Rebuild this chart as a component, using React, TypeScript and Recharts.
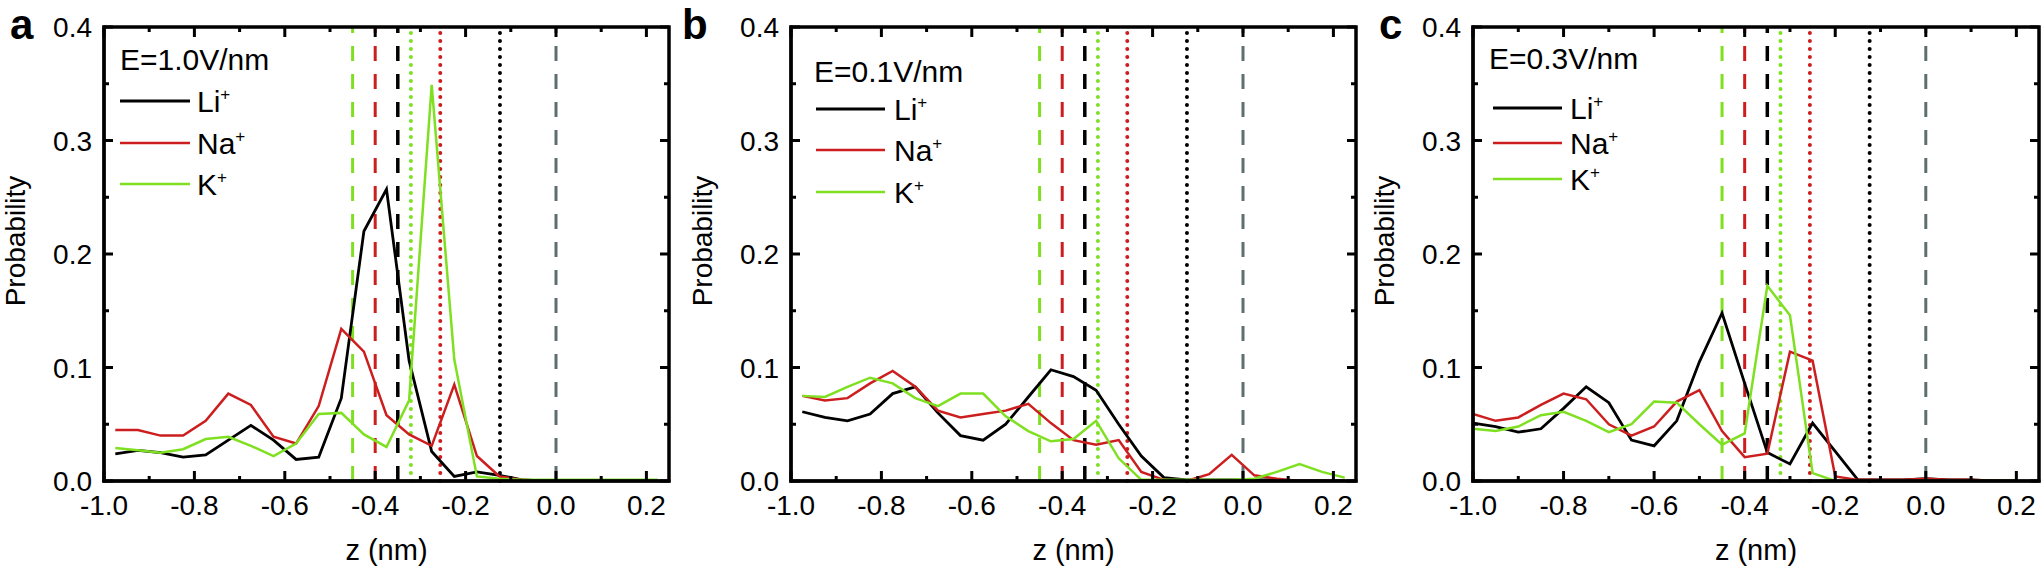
import React from 'react';
import { LineChart, Line, XAxis, YAxis, ReferenceLine } from 'recharts';

// bin centres (panels a, b are offset by half a bin, panel c is on the grid)
const zOffset = [-0.975, -0.925, -0.875, -0.825, -0.775, -0.725, -0.675, -0.625, -0.575, -0.525, -0.475, -0.425, -0.375, -0.325, -0.275, -0.225, -0.175, -0.125, -0.075, -0.025, 0.025, 0.075, 0.125, 0.175, 0.225];
const zGrid = [-1.0, -0.95, -0.9, -0.85, -0.8, -0.75, -0.7, -0.65, -0.6, -0.55, -0.5, -0.45, -0.4, -0.35, -0.3, -0.25, -0.2, -0.15, -0.1, -0.05, 0.0, 0.05, 0.1, 0.15, 0.2];

// panel a, E = 1.0 V/nm
const liA = [0.024, 0.027, 0.025, 0.021, 0.023, 0.036, 0.049, 0.036, 0.019, 0.021, 0.073, 0.22, 0.257, 0.106, 0.026, 0.004, 0.008, 0.005, 0.001, 0, 0, 0, 0, 0, 0];
const naA = [0.045, 0.045, 0.04, 0.04, 0.053, 0.077, 0.067, 0.039, 0.033, 0.066, 0.134, 0.114, 0.058, 0.041, 0.031, 0.085, 0.022, 0.004, 0.001, 0, 0, 0, 0, 0, 0];
const kA = [0.029, 0.027, 0.025, 0.028, 0.037, 0.039, 0.031, 0.022, 0.033, 0.059, 0.06, 0.041, 0.03, 0.071, 0.349, 0.107, 0.004, 0.002, 0.001, 0.001, 0.001, 0.001, 0.001, 0.001, 0.001];

// panel b, E = 0.1 V/nm
const liB = [0.061, 0.056, 0.053, 0.059, 0.077, 0.083, 0.06, 0.04, 0.036, 0.05, 0.074, 0.098, 0.092, 0.08, 0.05, 0.022, 0.003, 0.001, 0.001, 0.001, 0.001, 0.001, 0, 0, 0];
const naB = [0.075, 0.071, 0.073, 0.086, 0.097, 0.083, 0.062, 0.056, 0.059, 0.062, 0.068, 0.051, 0.036, 0.032, 0.036, 0.008, 0.001, 0, 0.006, 0.023, 0.005, 0.002, 0, 0, 0];
const kB = [0.075, 0.074, 0.083, 0.091, 0.086, 0.073, 0.066, 0.077, 0.077, 0.057, 0.044, 0.035, 0.037, 0.053, 0.02, 0.001, 0.001, 0.001, 0.001, 0.001, 0.002, 0.008, 0.015, 0.008, 0.003];

// panel c, E = 0.3 V/nm
const liC = [0.051, 0.048, 0.043, 0.046, 0.064, 0.083, 0.069, 0.036, 0.031, 0.053, 0.105, 0.148, 0.086, 0.025, 0.015, 0.051, 0.026, 0.001, 0.001, 0.001, 0.002, 0.001, 0.001, 0, 0];
const naC = [0.059, 0.053, 0.056, 0.067, 0.077, 0.072, 0.05, 0.04, 0.048, 0.07, 0.08, 0.044, 0.021, 0.024, 0.114, 0.106, 0.004, 0.001, 0.001, 0.001, 0.002, 0.001, 0.001, 0, 0];
const kC = [0.046, 0.044, 0.048, 0.058, 0.061, 0.053, 0.043, 0.05, 0.07, 0.069, 0.05, 0.032, 0.042, 0.172, 0.146, 0.007, 0, 0, 0, 0, 0, 0, 0, 0, 0];

// vertical marker positions (same in every panel)
const markerZ = [-0.45, -0.4, -0.35, -0.321, -0.256, -0.124, 0.0];

const xTicks = [-1.0, -0.9, -0.8, -0.7, -0.6, -0.5, -0.4, -0.3, -0.2, -0.1, 0.0, 0.1, 0.2];
const yTicks = [0, 0.05, 0.1, 0.15, 0.2, 0.25, 0.3, 0.35, 0.4];
const X_MIN = -1;
const X_MAX = 0.25;
const Y_MIN = 0;
const Y_MAX = 0.4;

const BLACK = '#000000';
const RED = '#cc1e1e';
const GREEN = '#7fe022';
const GRAY = '#5f6f70';
const FONT = '"Liberation Sans", Arial, sans-serif';

const DASH = '15 13';
const DOT = '0 8';
const markerStyle = [
  { stroke: GREEN, dash: DASH, w: 3, cap: 'butt' },
  { stroke: RED, dash: DASH, w: 3, cap: 'butt' },
  { stroke: BLACK, dash: DASH, w: 3.5, cap: 'butt' },
  { stroke: GREEN, dash: DOT, w: 4, cap: 'round' },
  { stroke: RED, dash: DOT, w: 4, cap: 'round' },
  { stroke: BLACK, dash: DOT, w: 4, cap: 'round' },
  { stroke: GRAY, dash: DASH, w: 3, cap: 'butt' },
];

const PLOT_TOP = 27;
const PLOT_BOTTOM = 481;
const H = 573;

const onStep = (v: number, step: number) => Math.abs(v / step - Math.round(v / step)) < 1e-6;

const BottomTick = (props: any) => {
  const { x, y, payload } = props;
  const major = onStep(payload.value, 0.2);
  return (
    <g>
      <line x1={x} x2={x} y1={y} y2={y - (major ? 10 : 5)} stroke="#000" strokeWidth={3} />
      {major && (
        <text x={x} y={y + 34} textAnchor="middle" fontSize={28} fontFamily={FONT} fill="#000">
          {payload.value.toFixed(1)}
        </text>
      )}
    </g>
  );
};

const LeftTick = (props: any) => {
  const { x, y, payload } = props;
  const major = onStep(payload.value, 0.1);
  return (
    <g>
      <line x1={x} x2={x + (major ? 9 : 5)} y1={y} y2={y} stroke="#000" strokeWidth={3} />
      {major && (
        <text x={x - 12} y={y} dy="0.36em" textAnchor="end" fontSize={28} fontFamily={FONT} fill="#000">
          {payload.value.toFixed(1)}
        </text>
      )}
    </g>
  );
};

type PanelProps = {
  letter: string;
  letterX: number;
  field: string;
  left: number;
  width: number;
  axisLeft: number;
  axisRight: number;
  z: number[];
  li: number[];
  na: number[];
  k: number[];
  legend: { ex: number; ey: number; lx1: number; lx2: number; tx: number; rows: number[] };
};

function Panel(p: PanelProps) {
  const data = p.z.map((z, i) => ({ z, li: p.li[i], na: p.na[i], k: p.k[i] }));
  const mLeft = p.axisLeft - p.left;
  const mRight = p.left + p.width - p.axisRight;
  const plotW = p.axisRight - p.axisLeft;
  const plotH = PLOT_BOTTOM - PLOT_TOP;
  const plotCenter = mLeft + plotW / 2;
  const axisStyle = { stroke: '#000', strokeWidth: 3, strokeLinecap: 'square' as const };
  const lg = p.legend;
  const series = [
    { name: 'Li', color: BLACK, w: 3 },
    { name: 'Na', color: RED, w: 2.6 },
    { name: 'K', color: GREEN, w: 2.6 },
  ];
  // same linear mapping as the chart's plot area, used for the mirrored top / right ticks
  const px = (v: number) => mLeft + ((v - X_MIN) / (X_MAX - X_MIN)) * plotW;
  const py = (v: number) => PLOT_BOTTOM - ((v - Y_MIN) / (Y_MAX - Y_MIN)) * plotH;
  const frameR = mLeft + plotW;

  // axes are 1px thick, so the margins leave that pixel out
  return (
    <div style={{ position: 'absolute', left: p.left, top: 0, width: p.width, height: H }}>
      <LineChart
        width={p.width}
        height={H}
        data={data}
        margin={{ top: PLOT_TOP, bottom: H - PLOT_BOTTOM - 1, left: mLeft - 1, right: mRight }}
      >
        <XAxis
          dataKey="z"
          type="number"
          domain={[X_MIN, X_MAX]}
          allowDataOverflow
          ticks={xTicks}
          interval={0}
          height={1}
          tickSize={0}
          tickMargin={0}
          tickLine={false}
          axisLine={axisStyle}
          tick={<BottomTick />}
        />
        <YAxis
          type="number"
          domain={[Y_MIN, Y_MAX]}
          allowDataOverflow
          ticks={yTicks}
          interval={0}
          width={1}
          tickSize={0}
          tickMargin={0}
          tickLine={false}
          axisLine={axisStyle}
          tick={<LeftTick />}
        />
        {markerZ.map((mz, i) => (
          <ReferenceLine
            key={'m' + i}
            x={mz}
            stroke={markerStyle[i].stroke}
            strokeWidth={markerStyle[i].w}
            strokeDasharray={markerStyle[i].dash}
            strokeLinecap={markerStyle[i].cap as any}
          />
        ))}
        <Line dataKey="li" stroke={BLACK} strokeWidth={2.8} dot={false} isAnimationActive={false} />
        <Line dataKey="na" stroke={RED} strokeWidth={2.5} dot={false} isAnimationActive={false} />
        <Line dataKey="k" stroke={GREEN} strokeWidth={2.5} dot={false} isAnimationActive={false} />
      </LineChart>
      <svg
        width={p.width}
        height={H}
        style={{ position: 'absolute', left: 0, top: 0, pointerEvents: 'none', overflow: 'visible' }}
        fontFamily={FONT}
      >
        {/* closed frame box around the plot, with inward ticks on the top and right */}
        <rect
          x={mLeft}
          y={PLOT_TOP}
          width={plotW}
          height={plotH}
          fill="none"
          stroke="#000"
          strokeWidth={3.5}
        />
        <path
          d={
            xTicks.map((t) => `M${px(t)},${PLOT_TOP} V${PLOT_TOP + (onStep(t, 0.2) ? 10 : 5)}`).join(' ') +
            ' ' +
            yTicks.map((t) => `M${frameR},${py(t)} H${frameR - (onStep(t, 0.1) ? 9 : 5)}`).join(' ')
          }
          fill="none"
          stroke="#000"
          strokeWidth={3}
        />
        <text x={p.letterX} y={39} fontSize={42} fontWeight="bold" fill="#000">
          {p.letter}
        </text>
        <text
          x={mLeft - 79}
          y={241}
          transform={`rotate(-90, ${mLeft - 79}, 241)`}
          textAnchor="middle"
          fontSize={28}
          fill="#000"
        >
          Probability
        </text>
        <text x={plotCenter} y={560} textAnchor="middle" fontSize={29} fill="#000">
          z (nm)
        </text>
        <text x={lg.ex} y={lg.ey} fontSize={30} fill="#000">
          {p.field}
        </text>
        {series.map((s, i) => (
          <g key={s.name}>
            <line x1={lg.lx1} x2={lg.lx2} y1={lg.rows[i]} y2={lg.rows[i]} stroke={s.color} strokeWidth={s.w} />
            <text x={lg.tx} y={lg.rows[i] + 11} fontSize={30} fill="#000">
              {s.name}
              <tspan dy={-12} fontSize={17}>
                +
              </tspan>
            </text>
          </g>
        ))}
      </svg>
    </div>
  );
}

export default function App() {
  return (
    <div style={{ position: 'absolute', left: 0, top: 0, width: 2043, height: H, background: '#fff' }}>
      <Panel
        letter="a"
        letterX={10}
        field="E=1.0V/nm"
        left={0}
        width={680}
        axisLeft={104}
        axisRight={669}
        z={zOffset}
        li={liA}
        na={naA}
        k={kA}
        legend={{ ex: 120, ey: 70, lx1: 120, lx2: 190, tx: 197, rows: [101, 143, 184] }}
      />
      <Panel
        letter="b"
        letterX={2}
        field="E=0.1V/nm"
        left={680}
        width={682}
        axisLeft={791}
        axisRight={1356}
        z={zOffset}
        li={liB}
        na={naB}
        k={kB}
        legend={{ ex: 134, ey: 82, lx1: 136, lx2: 205, tx: 214, rows: [109, 150, 192] }}
      />
      <Panel
        letter="c"
        letterX={17}
        field="E=0.3V/nm"
        left={1362}
        width={681}
        axisLeft={1473}
        axisRight={2039}
        z={zGrid}
        li={liC}
        na={naC}
        k={kC}
        legend={{ ex: 127, ey: 69, lx1: 131, lx2: 200, tx: 208, rows: [108, 143, 179] }}
      />
    </div>
  );
}
